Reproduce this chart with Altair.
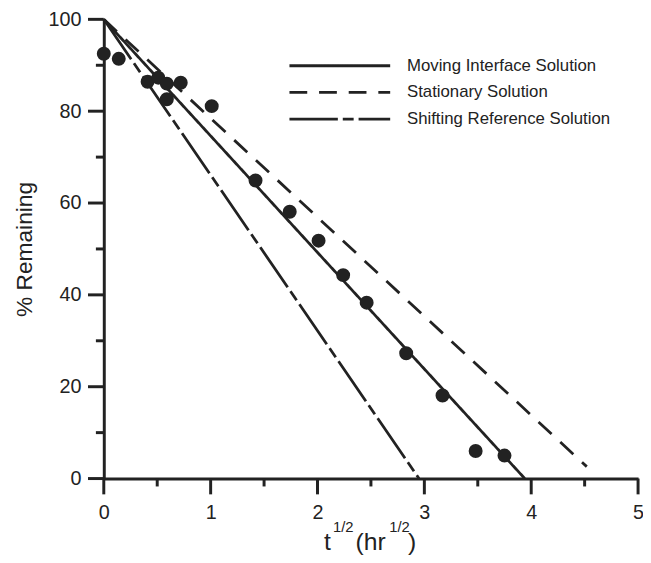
import altair as alt
import pandas as pd

INK = "#222222"
FONT = "Liberation Sans"

# measured points: sqrt(t) vs % remaining
sqrt_t = [0.0, 0.14, 0.41, 0.51, 0.59, 0.59, 0.72, 1.01, 1.42, 1.74, 2.01,
          2.24, 2.46, 2.83, 3.17, 3.48, 3.75]
remaining = [92.5, 91.4, 86.4, 87.3, 86.0, 82.6, 86.2, 81.1, 64.9, 58.1, 51.8,
             44.3, 38.3, 27.3, 18.1, 6.0, 5.0]

# model lines (straight lines, start and end points)
series_names = ["Moving Interface Solution", "Stationary Solution",
                "Shifting Reference Solution"]
line_x_start = [0.0, 0.0, 0.0]
line_y_start = [100.0, 100.0, 100.0]
line_x_end = [3.94, 4.52, 2.95]
line_y_end = [0.0, 2.6, 0.0]
dash_styles = [[1, 0], [18, 12], [49, 5, 11, 5]]

x_major = [0, 1, 2, 3, 4, 5]
x_minor = [0.5, 1.5, 2.5, 3.5, 4.5]
y_major = [0, 20, 40, 60, 80, 100]
y_minor = [10, 30, 50, 70, 90]

pts = pd.DataFrame({"x": sqrt_t, "y": remaining})
rows = []
for i, name in enumerate(series_names):
    rows.append({"series": name, "x": line_x_start[i], "y": line_y_start[i], "o": 0})
    rows.append({"series": name, "x": line_x_end[i], "y": line_y_end[i], "o": 1})
lines = pd.DataFrame(rows)

xscale = alt.Scale(domain=[0, 5], nice=False, zero=False)
yscale = alt.Scale(domain=[0, 100], nice=False, zero=False)

x_axis = alt.Axis(values=x_major, title=None, format="d", labelPadding=24,
                  ticks=False)
y_axis = alt.Axis(
    values=y_major, title="% Remaining", format="d", labelPadding=23,
    ticks=False,
    titleX=-80, titleY=232.5, titleAngle=270, titleAlign="center",
    titleBaseline="middle",
)

def X(field):
    return alt.X(field, scale=xscale, axis=x_axis)

def Y(field):
    return alt.Y(field, scale=yscale, axis=y_axis)

line_layer = alt.Chart(lines).mark_line(color=INK, strokeWidth=2.8, clip=False).encode(
    x=X("x:Q"),
    y=Y("y:Q"),
    order="o:Q",
    strokeDash=alt.StrokeDash(
        "series:N",
        scale=alt.Scale(domain=series_names, range=dash_styles),
        legend=None,
    ),
)

point_layer = alt.Chart(pts).mark_circle(size=200, color=INK, opacity=1).encode(
    x=X("x:Q"),
    y=Y("y:Q"),
)

# tick marks (major and minor), placed through the scales
def x_ticks_layer(vals, length):
    return alt.Chart(pd.DataFrame({"x": vals})).mark_rule(
        color=INK, strokeWidth=3).encode(
        x=X("x:Q"), y=alt.value(465), y2=alt.value(465 + length))

def y_ticks_layer(vals, length):
    return alt.Chart(pd.DataFrame({"y": vals})).mark_rule(
        color=INK, strokeWidth=3).encode(
        y=Y("y:Q"), x=alt.value(0), x2=alt.value(-length))

tick_layers = [
    x_ticks_layer(x_major, 16), x_ticks_layer(x_minor, 8),
    y_ticks_layer(y_major, 16), y_ticks_layer(y_minor, 8),
]

one = pd.DataFrame({"k": [0]})

# legend, drawn in the plot's top-right area
legend_layers = []
for i, name in enumerate(series_names):
    ly = 47 + 27 * i
    legend_layers.append(
        alt.Chart(one).mark_rule(color=INK, strokeWidth=2.8, strokeDash=dash_styles[i]).encode(
            x=alt.value(188), x2=alt.value(290), y=alt.value(ly)
        )
    )
    legend_layers.append(
        alt.Chart(one).mark_text(
            text=name, align="left", baseline="middle", fontSize=17,
            font=FONT, color=INK,
        ).encode(x=alt.value(307), y=alt.value(ly))
    )

# x-axis title with superscripts, kept as real text
def piece(txt, px, py, size):
    return alt.Chart(one).mark_text(
        text=txt, align="left", baseline="alphabetic", fontSize=size,
        font=FONT, color=INK,
    ).encode(x=alt.value(px), y=alt.value(py))

title_parts = [
    piece("t", 223, 537, 25),
    piece("1/2", 232, 519, 15),
    piece("(hr", 255, 537, 25),
    piece("1/2", 289, 519, 15),
    piece(")", 308, 537, 25),
]

chart = alt.layer(line_layer, *tick_layers, point_layer,
                  *legend_layers, *title_parts).properties(
    width=541, height=465,
    autosize="none",
    padding={"left": 97, "top": 8, "right": 5, "bottom": 80},
    background="white",
).configure_view(stroke=None).configure_axis(
    grid=False, domainWidth=3, domainColor=INK,
    labelFontSize=20, labelFont=FONT, labelColor=INK, labelFlush=False,
    titleFontSize=23, titleFont=FONT, titleColor=INK, titleFontWeight="normal",
)

chart.save("out.html", embed_options={"renderer": "svg", "actions": False})
